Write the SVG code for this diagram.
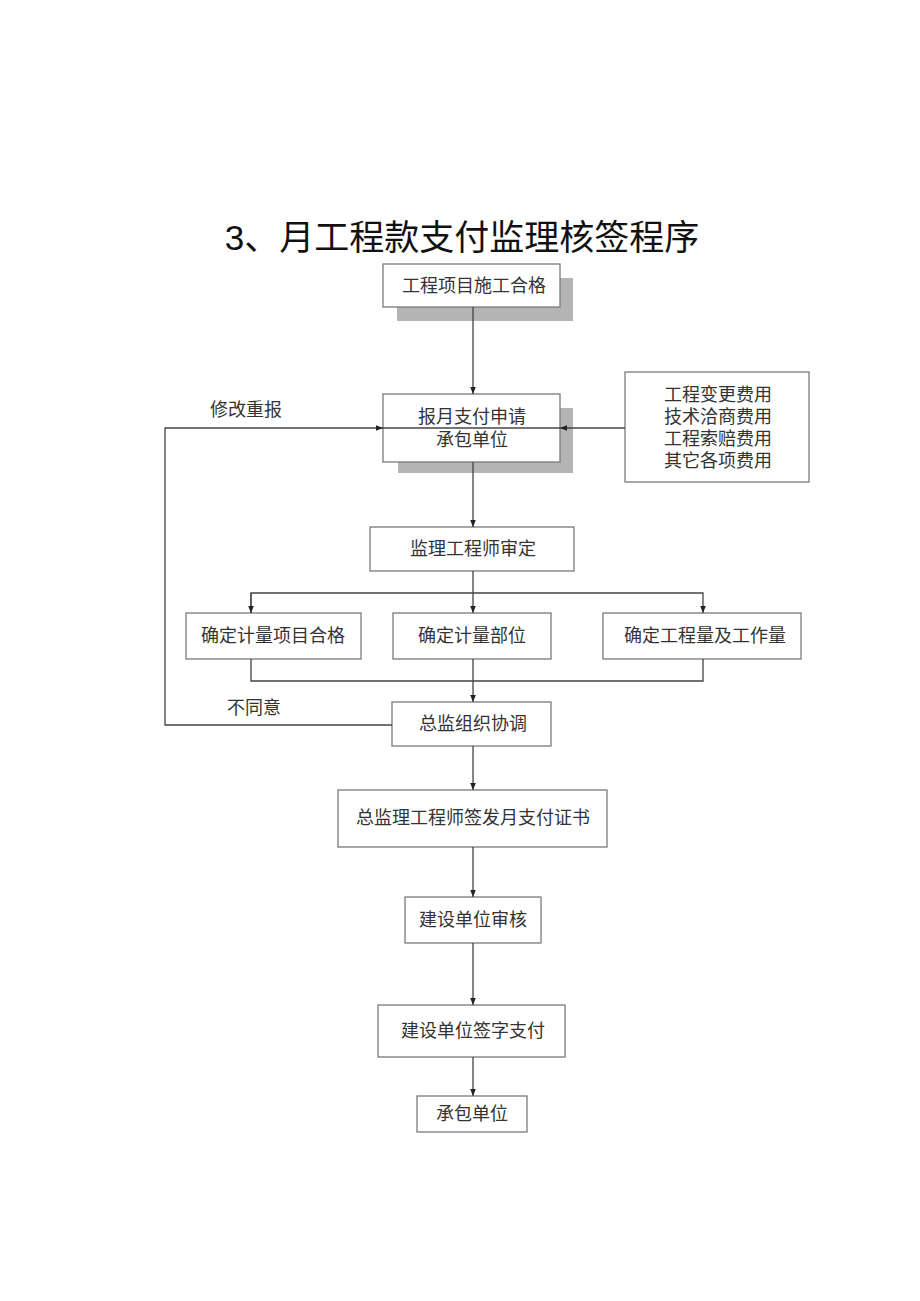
<svg xmlns="http://www.w3.org/2000/svg" width="920" height="1301" viewBox="0 0 920 1301">
<style>
.bx{fill:#fff;stroke:#7a7a7a;stroke-width:1.3}
.sh{fill:#b4b4b4}
.t{font-family:"Liberation Serif","Noto Sans CJK SC",serif;font-size:18px;fill:#333;text-anchor:middle}
.ln{fill:none;stroke:#444;stroke-width:1.3}
.title{font-family:"Liberation Sans","Noto Sans CJK SC",sans-serif;font-size:35px;fill:#111;text-anchor:middle}
</style>
<defs>
<marker id="ar" viewBox="0 0 10 10" refX="10" refY="5" markerWidth="7" markerHeight="7" orient="auto" markerUnits="userSpaceOnUse">
<path d="M0,1 L10,5 L0,9 Z" fill="#222"/>
</marker>
</defs>
<rect width="920" height="1301" fill="#fff"/>
<text class="title" x="462" y="250">3、月工程款支付监理核签程序</text>

<g id="n1">
<rect class="sh" x="397" y="278" width="176" height="43"/>
<rect class="bx" x="383" y="264" width="177" height="43"/>
<text class="t" x="474" y="292">工程项目施工合格</text>
</g>
<g id="n2">
<rect class="sh" x="398" y="408" width="175" height="65"/>
<rect class="bx" x="383" y="394" width="177" height="68"/>
<line class="ln" x1="383" y1="428" x2="560" y2="428"/>
<text class="t" x="472" y="423">报月支付申请</text>
<text class="t" x="472" y="446">承包单位</text>
</g>
<g id="n3">
<rect class="bx" x="625" y="372" width="184" height="110"/>
<text class="t" x="718" y="401">工程变更费用</text>
<text class="t" x="718" y="423">技术洽商费用</text>
<text class="t" x="718" y="445">工程索赔费用</text>
<text class="t" x="718" y="467">其它各项费用</text>
</g>
<g id="n4">
<rect class="bx" x="370" y="527" width="204" height="44"/>
<text class="t" x="473" y="555">监理工程师审定</text>
</g>
<g id="n5">
<rect class="bx" x="186" y="613" width="175" height="46"/>
<text class="t" x="273" y="642">确定计量项目合格</text>
</g>
<g id="n6">
<rect class="bx" x="393" y="613" width="158" height="46"/>
<text class="t" x="472" y="642">确定计量部位</text>
</g>
<g id="n7">
<rect class="bx" x="603" y="613" width="198" height="46"/>
<text class="t" x="705" y="642">确定工程量及工作量</text>
</g>
<g id="n8">
<rect class="bx" x="392" y="702" width="159" height="44"/>
<text class="t" x="473" y="730">总监组织协调</text>
</g>
<g id="n9">
<rect class="bx" x="338" y="790" width="269" height="57"/>
<text class="t" x="473" y="824">总监理工程师签发月支付证书</text>
</g>
<g id="n10">
<rect class="bx" x="405" y="897" width="136" height="46"/>
<text class="t" x="473" y="926">建设单位审核</text>
</g>
<g id="n11">
<rect class="bx" x="378" y="1005" width="187" height="52"/>
<text class="t" x="473" y="1037">建设单位签字支付</text>
</g>
<g id="n12">
<rect class="bx" x="417" y="1096" width="110" height="36"/>
<text class="t" x="472" y="1120">承包单位</text>
</g>

<g id="connectors">
<path class="ln" d="M473,307 V394" marker-end="url(#ar)"/>
<path class="ln" d="M625,428 H560" marker-end="url(#ar)"/>
<path class="ln" d="M392,725 H165 V428 H383" marker-end="url(#ar)"/>
<path class="ln" d="M473,462 V527" marker-end="url(#ar)"/>
<path class="ln" d="M473,571 V613" marker-end="url(#ar)"/>
<path class="ln" d="M251,613 V593 H703 V613" marker-end="url(#ar)"/>
<path class="ln" d="M251,593 V613" marker-end="url(#ar)"/>
<path class="ln" d="M251,659 V681 H703 V659"/>
<path class="ln" d="M473,659 V702" marker-end="url(#ar)"/>
<path class="ln" d="M473,746 V790" marker-end="url(#ar)"/>
<path class="ln" d="M473,847 V897" marker-end="url(#ar)"/>
<path class="ln" d="M473,943 V1005" marker-end="url(#ar)"/>
<path class="ln" d="M473,1057 V1096" marker-end="url(#ar)"/>
<text class="t" x="246" y="416">修改重报</text>
<text class="t" x="254" y="714">不同意</text>
</g>
</svg>
